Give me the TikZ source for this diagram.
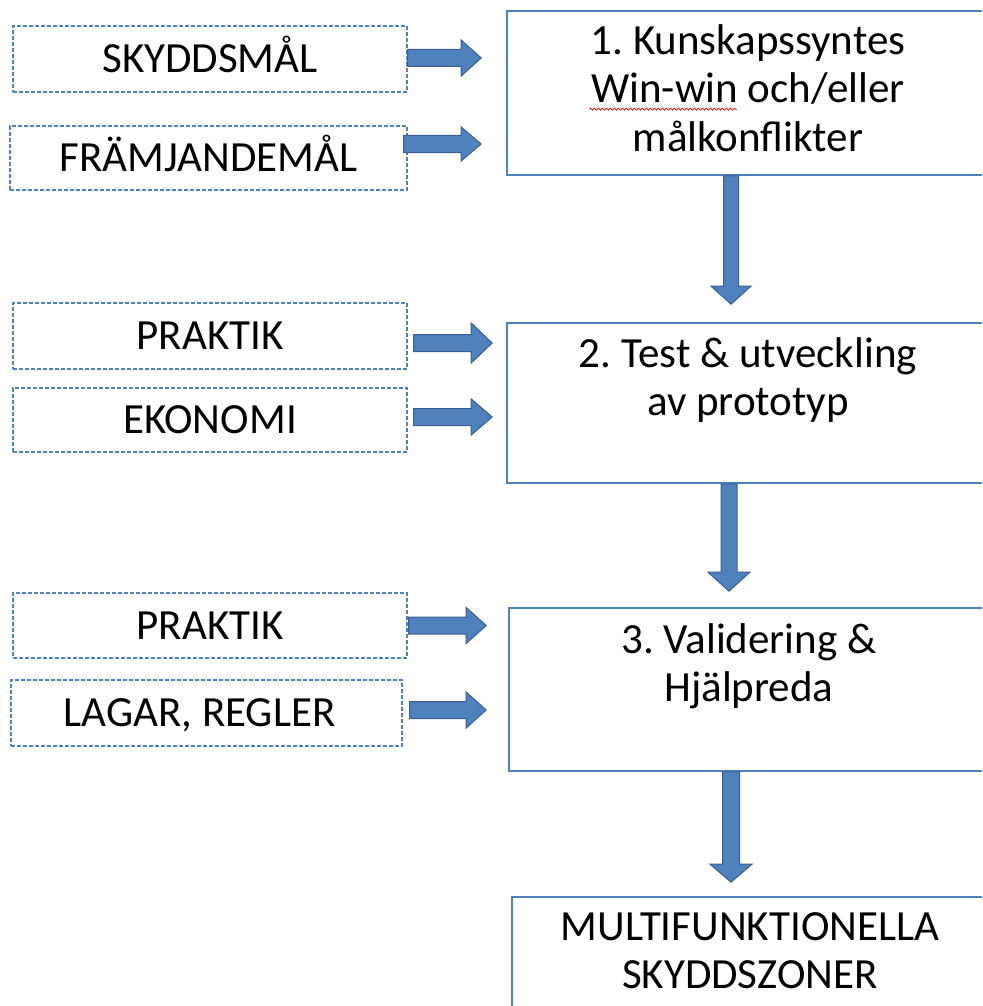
\documentclass[tikz,border=0pt]{standalone}
\usepackage{fontspec}
\setmainfont{Carlito}
\usetikzlibrary{calc,decorations.pathmorphing}
\definecolor{boxblue}{HTML}{4F81BD}
\definecolor{arrfill}{HTML}{4F81BD}
\definecolor{arrline}{HTML}{3A5F8E}
\frenchspacing
% horizontal block arrow: #1 start, #2 tip, #3 shaft half, #4 head half, #5 head length
\newcommand{\blkH}[5]{\filldraw[blk] let \p1=#1, \p2=#2 in
  (\x1,\y2+#3) -- (\x2-#5,\y2+#3) -- (\x2-#5,\y2+#4) -- (\x2,\y2) --
  (\x2-#5,\y2-#4) -- (\x2-#5,\y2-#3) -- (\x1,\y2-#3) -- cycle;}
% vertical (downward) block arrow
\newcommand{\blkV}[5]{\filldraw[blk] let \p1=#1, \p2=#2 in
  (\x2-#3,\y1) -- (\x2-#3,\y2+#5) -- (\x2-#4,\y2+#5) -- (\x2,\y2) --
  (\x2+#4,\y2+#5) -- (\x2+#3,\y2+#5) -- (\x2+#3,\y1) -- cycle;}
\begin{document}
\begin{tikzpicture}[x=1pt,y=-1pt,
  every node/.style={font=\fontsize{43}{48}\selectfont\frenchspacing},
  dbox/.style={draw=boxblue, line width=1.1pt, dash pattern=on 4pt off 2pt,
    inner sep=0pt, minimum width=394pt, minimum height=65pt,
    text height=27pt, text depth=0pt},
  mbox/.style={draw=boxblue, line width=1.6pt, inner sep=0pt, fill=white},
  blk/.style={fill=arrfill, draw=arrline, line width=1pt, line join=miter}]
\useasboundingbox (0,0) rectangle (982,1006);
\clip (0,0) rectangle (982,1006);

% input boxes
\node[dbox, minimum height=66pt] (s1) at (210,59) {SKYDDSMÅL};
\node[dbox, minimum width=397pt, minimum height=64pt] (s2) at (208.5,158) {FRÄMJANDEMÅL};
\node[dbox, minimum height=66pt] (p1) at (210,336) {PRAKTIK};
\node[dbox, minimum height=64pt] (e1) at (210,420) {EKONOMI};
\node[dbox] (p2) at (210,625.5) {PRAKTIK};
\node[dbox, minimum width=391pt, minimum height=66pt] (l1) at (206.5,713) {\hspace*{-14pt}LAGAR, REGLER};

% main boxes
\node[mbox] (k1) at (748,93) {\begin{minipage}[c][164pt][t]{482pt}\centering\rule{0pt}{44pt}1. Kunskapssyntes\\Win-win och/eller\\målkonflikter\end{minipage}};
\node[mbox] (k2) at (748,403) {\begin{minipage}[c][160pt][t]{482pt}\centering\rule{0pt}{44pt}2. Test \& utveckling\\av prototyp\end{minipage}};
\node[mbox] (k3) at (749,689.5) {\begin{minipage}[c][163pt][t]{480pt}\centering\rule{0pt}{45pt}3. Validering \&\\Hjälpreda\end{minipage}};
\node[mbox] (k4) at (750,979) {\begin{minipage}[c][164pt][t]{476pt}\centering\rule{0pt}{43pt}MULTIFUNKTIONELLA\\SKYDDSZONER\end{minipage}};

% spell-check underline
\draw[red!85!black, line width=0.7pt, decorate,
  decoration={snake, amplitude=1pt, segment length=4pt}]
  ($(k1.north west)+(83,99)$) -- ($(k1.north west)+(231,99)$);

% horizontal arrows
\blkH{($(s1.east)+(0,-1)$)}{($(k1.west |- s1.east)+(-25,-1)$)}{8.5pt}{18pt}{20pt}
\blkH{($(s2.east)+(-4,-14)$)}{($(k1.west |- s2.east)+(-25,-14)$)}{8.5pt}{17pt}{20pt}
\blkH{($(p1.east)+(6,7)$)}{($(k2.west |- p1.east)+(-14,7)$)}{8.5pt}{20pt}{21pt}
\blkH{($(e1.east)+(6,-3)$)}{($(k2.west |- e1.east)+(-14,-3)$)}{8.5pt}{18pt}{21pt}
\blkH{($(p2.east)+(1,0)$)}{($(k3.west |- p2.east)+(-22,0)$)}{8.5pt}{18pt}{20pt}
\blkH{($(l1.east)+(7,-3)$)}{($(k3.west |- l1.east)+(-22,-3)$)}{8.5pt}{18pt}{20pt}

% vertical arrows
\blkV{($(k1.south)+(-17,0)$)}{($(k2.north)+(-17,-18)$)}{7.5pt}{20pt}{18pt}
\blkV{($(k2.south)+(-19,0)$)}{($(k3.north)+(-20,-16)$)}{8pt}{21pt}{19pt}
\blkV{($(k3.south)+(-18,0)$)}{($(k4.north)+(-19,-14)$)}{8.5pt}{21pt}{18pt}
\end{tikzpicture}
\end{document}
